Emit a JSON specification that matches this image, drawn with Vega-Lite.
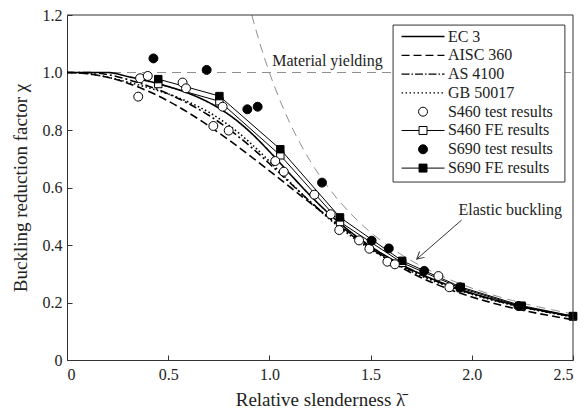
{
  "$schema": "https://vega.github.io/schema/vega-lite/v6.json",
  "width": 506,
  "height": 345,
  "autosize": {"type": "none"},
  "padding": {"left": 67, "top": 15, "right": 12, "bottom": 54},
  "background": "white",
  "config": {
    "font": "Liberation Serif",
    "view": {"stroke": null},
    "axis": {
      "domainColor": "#333", "tickColor": "#333", "labelColor": "#222", "titleColor": "#222",
      "labelFont": "Liberation Serif", "titleFont": "Liberation Serif",
      "labelFontSize": 16, "titleFontSize": 19, "titleFontWeight": "normal",
      "grid": false, "tickSize": -5, "domainWidth": 1, "tickWidth": 1
    }
  },
  "data": {
    "values": [
      {"s": "yield", "x": 0, "y": 1}, {"s": "yield", "x": 2.5, "y": 1},
      {"s": "elastic", "x": 0.913, "y": 1.2}, {"s": "elastic", "x": 0.95, "y": 1.108}, {"s": "elastic", "x": 1.0, "y": 1.0},
      {"s": "elastic", "x": 1.05, "y": 0.907}, {"s": "elastic", "x": 1.1, "y": 0.826}, {"s": "elastic", "x": 1.15, "y": 0.756},
      {"s": "elastic", "x": 1.2, "y": 0.694}, {"s": "elastic", "x": 1.3, "y": 0.592}, {"s": "elastic", "x": 1.4, "y": 0.510},
      {"s": "elastic", "x": 1.5, "y": 0.444}, {"s": "elastic", "x": 1.6, "y": 0.391}, {"s": "elastic", "x": 1.7, "y": 0.346},
      {"s": "elastic", "x": 1.8, "y": 0.309}, {"s": "elastic", "x": 1.9, "y": 0.277}, {"s": "elastic", "x": 2.0, "y": 0.25},
      {"s": "elastic", "x": 2.2, "y": 0.207}, {"s": "elastic", "x": 2.5, "y": 0.16},

      {"s": "EC 3", "x": 0, "y": 1}, {"s": "EC 3", "x": 0.1, "y": 1}, {"s": "EC 3", "x": 0.2, "y": 1},
      {"s": "EC 3", "x": 0.3, "y": 0.9859}, {"s": "EC 3", "x": 0.4, "y": 0.9701}, {"s": "EC 3", "x": 0.5, "y": 0.9513},
      {"s": "EC 3", "x": 0.6, "y": 0.9276}, {"s": "EC 3", "x": 0.7, "y": 0.8961}, {"s": "EC 3", "x": 0.8, "y": 0.8533},
      {"s": "EC 3", "x": 0.9, "y": 0.7961}, {"s": "EC 3", "x": 1.0, "y": 0.7253}, {"s": "EC 3", "x": 1.1, "y": 0.6483},
      {"s": "EC 3", "x": 1.2, "y": 0.5732}, {"s": "EC 3", "x": 1.3, "y": 0.5053}, {"s": "EC 3", "x": 1.4, "y": 0.4461},
      {"s": "EC 3", "x": 1.5, "y": 0.3953}, {"s": "EC 3", "x": 1.6, "y": 0.352}, {"s": "EC 3", "x": 1.7, "y": 0.315},
      {"s": "EC 3", "x": 1.8, "y": 0.2833}, {"s": "EC 3", "x": 1.9, "y": 0.2559}, {"s": "EC 3", "x": 2.0, "y": 0.2323},
      {"s": "EC 3", "x": 2.2, "y": 0.1937}, {"s": "EC 3", "x": 2.5, "y": 0.1515},

      {"s": "AISC 360", "x": 0, "y": 1}, {"s": "AISC 360", "x": 0.1, "y": 0.9958}, {"s": "AISC 360", "x": 0.2, "y": 0.9834},
      {"s": "AISC 360", "x": 0.3, "y": 0.963}, {"s": "AISC 360", "x": 0.4, "y": 0.9352}, {"s": "AISC 360", "x": 0.5, "y": 0.9007},
      {"s": "AISC 360", "x": 0.6, "y": 0.8601}, {"s": "AISC 360", "x": 0.7, "y": 0.8146}, {"s": "AISC 360", "x": 0.8, "y": 0.765},
      {"s": "AISC 360", "x": 0.9, "y": 0.7125}, {"s": "AISC 360", "x": 1.0, "y": 0.658}, {"s": "AISC 360", "x": 1.1, "y": 0.6026},
      {"s": "AISC 360", "x": 1.2, "y": 0.5473}, {"s": "AISC 360", "x": 1.3, "y": 0.493}, {"s": "AISC 360", "x": 1.4, "y": 0.4403},
      {"s": "AISC 360", "x": 1.5, "y": 0.39}, {"s": "AISC 360", "x": 1.6, "y": 0.3426}, {"s": "AISC 360", "x": 1.7, "y": 0.3035},
      {"s": "AISC 360", "x": 1.8, "y": 0.2707}, {"s": "AISC 360", "x": 1.9, "y": 0.2429}, {"s": "AISC 360", "x": 2.0, "y": 0.2193},
      {"s": "AISC 360", "x": 2.2, "y": 0.1812}, {"s": "AISC 360", "x": 2.5, "y": 0.1403},

      {"s": "AS 4100", "x": 0, "y": 1}, {"s": "AS 4100", "x": 0.1, "y": 1}, {"s": "AS 4100", "x": 0.2, "y": 0.9929},
      {"s": "AS 4100", "x": 0.3, "y": 0.9756}, {"s": "AS 4100", "x": 0.4, "y": 0.9534}, {"s": "AS 4100", "x": 0.5, "y": 0.9258},
      {"s": "AS 4100", "x": 0.6, "y": 0.892}, {"s": "AS 4100", "x": 0.7, "y": 0.8513}, {"s": "AS 4100", "x": 0.8, "y": 0.8028},
      {"s": "AS 4100", "x": 0.9, "y": 0.7462}, {"s": "AS 4100", "x": 1.0, "y": 0.6832}, {"s": "AS 4100", "x": 1.1, "y": 0.6171},
      {"s": "AS 4100", "x": 1.2, "y": 0.5521}, {"s": "AS 4100", "x": 1.3, "y": 0.4915}, {"s": "AS 4100", "x": 1.4, "y": 0.4371},
      {"s": "AS 4100", "x": 1.5, "y": 0.3893}, {"s": "AS 4100", "x": 1.6, "y": 0.3479}, {"s": "AS 4100", "x": 1.7, "y": 0.312},
      {"s": "AS 4100", "x": 1.8, "y": 0.281}, {"s": "AS 4100", "x": 1.9, "y": 0.2542}, {"s": "AS 4100", "x": 2.0, "y": 0.2309},
      {"s": "AS 4100", "x": 2.2, "y": 0.1927}, {"s": "AS 4100", "x": 2.5, "y": 0.1509},

      {"s": "GB 50017", "x": 0, "y": 1}, {"s": "GB 50017", "x": 0.1, "y": 0.9959}, {"s": "GB 50017", "x": 0.2, "y": 0.9836},
      {"s": "GB 50017", "x": 0.3, "y": 0.9666}, {"s": "GB 50017", "x": 0.4, "y": 0.9477}, {"s": "GB 50017", "x": 0.5, "y": 0.9254},
      {"s": "GB 50017", "x": 0.6, "y": 0.8976}, {"s": "GB 50017", "x": 0.7, "y": 0.8621}, {"s": "GB 50017", "x": 0.8, "y": 0.8161},
      {"s": "GB 50017", "x": 0.9, "y": 0.7585}, {"s": "GB 50017", "x": 1.0, "y": 0.6912}, {"s": "GB 50017", "x": 1.1, "y": 0.6199},
      {"s": "GB 50017", "x": 1.2, "y": 0.551}, {"s": "GB 50017", "x": 1.3, "y": 0.4881}, {"s": "GB 50017", "x": 1.4, "y": 0.4328},
      {"s": "GB 50017", "x": 1.5, "y": 0.3849}, {"s": "GB 50017", "x": 1.6, "y": 0.3437}, {"s": "GB 50017", "x": 1.7, "y": 0.3083},
      {"s": "GB 50017", "x": 1.8, "y": 0.2778}, {"s": "GB 50017", "x": 1.9, "y": 0.2514}, {"s": "GB 50017", "x": 2.0, "y": 0.2285},
      {"s": "GB 50017", "x": 2.2, "y": 0.191}, {"s": "GB 50017", "x": 2.5, "y": 0.1497},

      {"s": "S460 FE results", "x": 0.451, "y": 0.960}, {"s": "S460 FE results", "x": 0.753, "y": 0.900},
      {"s": "S460 FE results", "x": 1.054, "y": 0.712}, {"s": "S460 FE results", "x": 1.349, "y": 0.480},
      {"s": "S460 FE results", "x": 1.656, "y": 0.338}, {"s": "S460 FE results", "x": 1.945, "y": 0.250},
      {"s": "S460 FE results", "x": 2.246, "y": 0.186}, {"s": "S460 FE results", "x": 2.5, "y": 0.151},

      {"s": "S690 FE results", "x": 0.451, "y": 0.977}, {"s": "S690 FE results", "x": 0.753, "y": 0.918},
      {"s": "S690 FE results", "x": 1.054, "y": 0.733}, {"s": "S690 FE results", "x": 1.349, "y": 0.496},
      {"s": "S690 FE results", "x": 1.656, "y": 0.345}, {"s": "S690 FE results", "x": 1.945, "y": 0.254},
      {"s": "S690 FE results", "x": 2.246, "y": 0.189}, {"s": "S690 FE results", "x": 2.5, "y": 0.153},

      {"s": "S460 test results", "x": 0.352, "y": 0.916}, {"s": "S460 test results", "x": 0.361, "y": 0.980},
      {"s": "S460 test results", "x": 0.399, "y": 0.988}, {"s": "S460 test results", "x": 0.571, "y": 0.965},
      {"s": "S460 test results", "x": 0.588, "y": 0.945}, {"s": "S460 test results", "x": 0.723, "y": 0.814},
      {"s": "S460 test results", "x": 0.769, "y": 0.881}, {"s": "S460 test results", "x": 0.799, "y": 0.798},
      {"s": "S460 test results", "x": 1.029, "y": 0.692}, {"s": "S460 test results", "x": 1.071, "y": 0.655},
      {"s": "S460 test results", "x": 1.222, "y": 0.575}, {"s": "S460 test results", "x": 1.303, "y": 0.507},
      {"s": "S460 test results", "x": 1.345, "y": 0.452}, {"s": "S460 test results", "x": 1.443, "y": 0.416},
      {"s": "S460 test results", "x": 1.494, "y": 0.387}, {"s": "S460 test results", "x": 1.583, "y": 0.342},
      {"s": "S460 test results", "x": 1.62, "y": 0.333}, {"s": "S460 test results", "x": 1.835, "y": 0.292},
      {"s": "S460 test results", "x": 1.889, "y": 0.253},

      {"s": "S690 test results", "x": 0.427, "y": 1.049}, {"s": "S690 test results", "x": 0.69, "y": 1.009},
      {"s": "S690 test results", "x": 0.891, "y": 0.872}, {"s": "S690 test results", "x": 0.942, "y": 0.881},
      {"s": "S690 test results", "x": 1.26, "y": 0.617}, {"s": "S690 test results", "x": 1.505, "y": 0.415},
      {"s": "S690 test results", "x": 1.59, "y": 0.388}, {"s": "S690 test results", "x": 1.765, "y": 0.31},
      {"s": "S690 test results", "x": 1.942, "y": 0.253}, {"s": "S690 test results", "x": 2.23, "y": 0.188}
    ]
  },
  "encoding": {
    "x": {"field": "x", "type": "quantitative", "scale": {"domain": [0, 2.5], "nice": false},
          "axis": {"title": "Relative slenderness λ̄", "values": [0, 0.5, 1, 1.5, 2, 2.5],
                   "labelExpr": "datum.value == 0 ? '0' : format(datum.value, '.1f')", "labelPadding": 11, "titlePadding": 8}},
    "y": {"field": "y", "type": "quantitative", "scale": {"domain": [0, 1.2], "nice": false},
          "axis": {"title": "Buckling reduction factor χ", "values": [0, 0.2, 0.4, 0.6, 0.8, 1, 1.2],
                   "labelExpr": "datum.value == 0 ? '0' : format(datum.value, '.1f')", "labelPadding": 10, "titlePadding": 12}}
  },
  "layer": [
    {
      "transform": [{"filter": "datum.s == 'yield'"}],
      "mark": {"type": "line", "color": "#8f8f8f", "strokeWidth": 1, "strokeDash": [9, 6]}
    },
    {
      "transform": [{"filter": "datum.s == 'elastic'"}],
      "mark": {"type": "line", "color": "#8f8f8f", "strokeWidth": 1, "strokeDash": [9, 6], "interpolate": "monotone", "clip": true}
    },
    {
      "transform": [{"filter": "indexof(['EC 3','AISC 360','AS 4100','GB 50017'], datum.s) >= 0"}],
      "mark": {"type": "line", "color": "black", "strokeWidth": 1.6, "interpolate": "monotone"},
      "encoding": {
        "strokeDash": {"field": "s", "type": "nominal",
          "scale": {"domain": ["EC 3", "AISC 360", "AS 4100", "GB 50017"],
                    "range": [[1, 0], [8, 4], [8, 3, 2, 3], [1.5, 2.5]]},
          "legend": null}
      }
    },
    {
      "transform": [{"filter": "datum.s == 'S460 FE results' || datum.s == 'S690 FE results'"}],
      "mark": {"type": "line", "color": "black", "strokeWidth": 1},
      "encoding": {"detail": {"field": "s", "type": "nominal"}}
    },
    {
      "transform": [{"filter": "datum.s == 'S460 FE results' || datum.s == 'S690 FE results'"}],
      "mark": {"type": "point", "shape": "square", "filled": true, "stroke": "black", "strokeWidth": 1, "size": 55, "opacity": 1},
      "encoding": {
        "fill": {"field": "s", "type": "nominal",
          "scale": {"domain": ["S460 test results", "S460 FE results", "S690 test results", "S690 FE results"],
                    "range": ["white", "white", "black", "black"]},
          "legend": null}
      }
    },
    {
      "transform": [{"filter": "datum.s == 'S460 test results' || datum.s == 'S690 test results'"}],
      "mark": {"type": "point", "shape": "circle", "filled": true, "stroke": "black", "strokeWidth": 1, "size": 80, "opacity": 1},
      "encoding": {
        "fill": {"field": "s", "type": "nominal",
          "scale": {"domain": ["S460 test results", "S460 FE results", "S690 test results", "S690 FE results"],
                    "range": ["white", "white", "black", "black"]},
          "legend": null}
      }
    },
    {
      "transform": [{"filter": "datum.s == 'yield' && datum.x == 0"}],
      "mark": {"type": "rule", "color": "#333", "strokeWidth": 1},
      "encoding": {"x": {"datum": 0}, "x2": {"datum": 2.5}, "y": {"datum": 1.2}}
    },
    {
      "transform": [{"filter": "datum.s == 'yield' && datum.x == 0"}],
      "mark": {"type": "rule", "color": "#333", "strokeWidth": 1},
      "encoding": {"x": {"datum": 2.5}, "y": {"datum": 0}, "y2": {"datum": 1.2}}
    },
    {
      "transform": [{"filter": "datum.s == 'yield' && datum.x == 0"}],
      "mark": {"type": "text", "font": "Liberation Serif", "fontSize": 16, "color": "#222", "align": "center", "baseline": "middle"},
      "encoding": {"x": {"datum": 1.287}, "y": {"datum": 1.04}, "text": {"value": "Material yielding"}}
    },
    {
      "transform": [{"filter": "datum.s == 'yield' && datum.x == 0"}],
      "mark": {"type": "text", "font": "Liberation Serif", "fontSize": 16, "color": "#222", "align": "center", "baseline": "middle"},
      "encoding": {"x": {"datum": 2.19}, "y": {"datum": 0.522}, "text": {"value": "Elastic buckling"}}
    },
    {
      "transform": [{"filter": "datum.s == 'yield' && datum.x == 0"}],
      "mark": {"type": "rule", "color": "#333", "strokeWidth": 1},
      "encoding": {"x": {"datum": 1.95}, "y": {"datum": 0.487}, "x2": {"datum": 1.728}, "y2": {"datum": 0.351}}
    },
    {
      "transform": [{"filter": "datum.s == 'yield' && datum.x == 0"}],
      "mark": {"type": "point", "shape": "M-0.55,1L0,0L0.55,1", "angle": 229, "size": 200, "filled": false, "stroke": "#333", "strokeWidth": 1, "opacity": 1},
      "encoding": {"x": {"datum": 1.728}, "y": {"datum": 0.351}}
    },
    {
      "transform": [{"filter": "datum.s == 'yield' && datum.x == 0"}],
      "mark": {"type": "rect", "fill": "white", "stroke": "#333", "strokeWidth": 1},
      "encoding": {"x": {"datum": 1.611}, "x2": {"datum": 2.46}, "y": {"datum": 1.165}, "y2": {"datum": 0.619}}
    },
    {
      "transform": [{"filter": "datum.s == 'yield' && datum.x == 0"}],
      "mark": {"type": "point", "shape": "M-2.26,0H2.26", "size": 361, "filled": false, "stroke": "black", "strokeWidth": 1.3, "opacity": 1},
      "encoding": {"x": {"datum": 1.759}, "y": {"datum": 1.1252}}
    },
    {
      "transform": [{"filter": "datum.s == 'yield' && datum.x == 0"}],
      "mark": {"type": "point", "shape": "M-2.26,0H-1.42M-1.0,0H-0.16M0.26,0H1.1M1.52,0H2.26", "size": 361, "filled": false, "stroke": "black", "strokeWidth": 1.3, "opacity": 1},
      "encoding": {"x": {"datum": 1.759}, "y": {"datum": 1.0598}}
    },
    {
      "transform": [{"filter": "datum.s == 'yield' && datum.x == 0"}],
      "mark": {"type": "point", "shape": "M-2.26,0H-1.42M-1.21,0H-1.05M-0.84,0H0M0.21,0H0.37M0.58,0H1.42M1.63,0H1.79M2.0,0H2.26", "size": 361, "filled": false, "stroke": "black", "strokeWidth": 1.3, "opacity": 1},
      "encoding": {"x": {"datum": 1.759}, "y": {"datum": 0.9944}}
    },
    {
      "transform": [{"filter": "datum.s == 'yield' && datum.x == 0"}],
      "mark": {"type": "point", "shape": "M-2.26,0h0.16M-1.84,0h0.16M-1.42,0h0.16M-1.0,0h0.16M-0.58,0h0.16M-0.16,0h0.16M0.26,0h0.16M0.68,0h0.16M1.1,0h0.16M1.52,0h0.16M1.94,0h0.16", "size": 361, "filled": false, "stroke": "black", "strokeWidth": 1.1, "opacity": 1},
      "encoding": {"x": {"datum": 1.759}, "y": {"datum": 0.929}}
    },
    {
      "transform": [{"filter": "datum.s == 'yield' && datum.x == 0"}],
      "mark": {"type": "point", "shape": "circle", "size": 80, "filled": true, "fill": "white", "stroke": "black", "strokeWidth": 1, "opacity": 1},
      "encoding": {"x": {"datum": 1.759}, "y": {"datum": 0.8637}}
    },
    {
      "transform": [{"filter": "datum.s == 'yield' && datum.x == 0"}],
      "mark": {"type": "point", "shape": "M-2.26,0H-0.42M0.42,0H2.26M-0.42,-0.42H0.42V0.42H-0.42Z", "size": 361, "filled": true, "fill": "white", "stroke": "black", "strokeWidth": 1, "opacity": 1},
      "encoding": {"x": {"datum": 1.759}, "y": {"datum": 0.7983}}
    },
    {
      "transform": [{"filter": "datum.s == 'yield' && datum.x == 0"}],
      "mark": {"type": "point", "shape": "circle", "size": 80, "filled": true, "fill": "black", "stroke": "black", "strokeWidth": 1, "opacity": 1},
      "encoding": {"x": {"datum": 1.759}, "y": {"datum": 0.7329}}
    },
    {
      "transform": [{"filter": "datum.s == 'yield' && datum.x == 0"}],
      "mark": {"type": "point", "shape": "M-2.26,0H-0.42M0.42,0H2.26M-0.42,-0.42H0.42V0.42H-0.42Z", "size": 361, "filled": true, "fill": "black", "stroke": "black", "strokeWidth": 1, "opacity": 1},
      "encoding": {"x": {"datum": 1.759}, "y": {"datum": 0.6675}}
    },
    {
      "transform": [{"filter": "datum.s == 'yield' && datum.x == 0"}],
      "mark": {"type": "text", "font": "Liberation Serif", "fontSize": 16, "color": "#222", "align": "left", "baseline": "middle"},
      "encoding": {"x": {"datum": 1.882}, "y": {"datum": 1.1252}, "text": {"value": "EC 3"}}
    },
    {
      "transform": [{"filter": "datum.s == 'yield' && datum.x == 0"}],
      "mark": {"type": "text", "font": "Liberation Serif", "fontSize": 16, "color": "#222", "align": "left", "baseline": "middle"},
      "encoding": {"x": {"datum": 1.882}, "y": {"datum": 1.0598}, "text": {"value": "AISC 360"}}
    },
    {
      "transform": [{"filter": "datum.s == 'yield' && datum.x == 0"}],
      "mark": {"type": "text", "font": "Liberation Serif", "fontSize": 16, "color": "#222", "align": "left", "baseline": "middle"},
      "encoding": {"x": {"datum": 1.882}, "y": {"datum": 0.9944}, "text": {"value": "AS 4100"}}
    },
    {
      "transform": [{"filter": "datum.s == 'yield' && datum.x == 0"}],
      "mark": {"type": "text", "font": "Liberation Serif", "fontSize": 16, "color": "#222", "align": "left", "baseline": "middle"},
      "encoding": {"x": {"datum": 1.882}, "y": {"datum": 0.929}, "text": {"value": "GB 50017"}}
    },
    {
      "transform": [{"filter": "datum.s == 'yield' && datum.x == 0"}],
      "mark": {"type": "text", "font": "Liberation Serif", "fontSize": 16, "color": "#222", "align": "left", "baseline": "middle"},
      "encoding": {"x": {"datum": 1.882}, "y": {"datum": 0.8637}, "text": {"value": "S460 test results"}}
    },
    {
      "transform": [{"filter": "datum.s == 'yield' && datum.x == 0"}],
      "mark": {"type": "text", "font": "Liberation Serif", "fontSize": 16, "color": "#222", "align": "left", "baseline": "middle"},
      "encoding": {"x": {"datum": 1.882}, "y": {"datum": 0.7983}, "text": {"value": "S460 FE results"}}
    },
    {
      "transform": [{"filter": "datum.s == 'yield' && datum.x == 0"}],
      "mark": {"type": "text", "font": "Liberation Serif", "fontSize": 16, "color": "#222", "align": "left", "baseline": "middle"},
      "encoding": {"x": {"datum": 1.882}, "y": {"datum": 0.7329}, "text": {"value": "S690 test results"}}
    },
    {
      "transform": [{"filter": "datum.s == 'yield' && datum.x == 0"}],
      "mark": {"type": "text", "font": "Liberation Serif", "fontSize": 16, "color": "#222", "align": "left", "baseline": "middle"},
      "encoding": {"x": {"datum": 1.882}, "y": {"datum": 0.6675}, "text": {"value": "S690 FE results"}}
    }
  ]
}
